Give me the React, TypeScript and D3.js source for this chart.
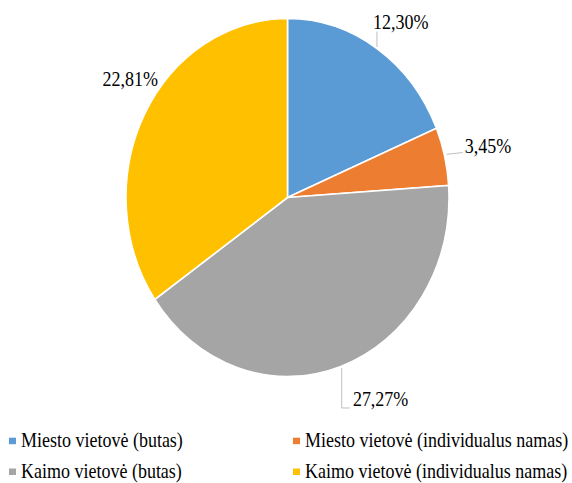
import React from "react";
import * as d3 from "d3";

const categories = [
  "Miesto vietovė (butas)",
  "Miesto vietovė (individualus namas)",
  "Kaimo vietovė (butas)",
  "Kaimo vietovė (individualus namas)",
];
const values = [12.3, 3.45, 27.27, 22.81];
const colors = ["#5B9BD5", "#ED7D31", "#A5A5A5", "#FFC000"];

// layout
const W = 572;
const H = 483;
const CX = 287.5;
const CY = 197.5;
const R = 161.5;
const SY = 1.108;
const FONT = "Liberation Serif";

// label placement relative to slice edge midpoint
const labelLayout = [
  { dx: -4, dy: -20, leader: "up" },
  { dx: 20, dy: -3, leader: "right" },
  { dx: 12, dy: 40, leader: "down" },
  { dx: -42, dy: -29, leader: "none" },
];

const legendCols = [9, 293];
const legendRows = [446.7, 477.5];

const fmt = (v: number) => v.toFixed(2).replace(".", ",") + "%";

export default function App() {
  const pie = d3
    .pie<number>()
    .sort(null)
    .value((d) => d);
  const arcs = pie(values);
  const arc = d3.arc<d3.PieArcDatum<number>>().innerRadius(0).outerRadius(R);

  const edge = (a: d3.PieArcDatum<number>) => {
    const m = (a.startAngle + a.endAngle) / 2;
    return [CX + R * Math.sin(m), CY - R * SY * Math.cos(m)];
  };

  return (
    <svg width={W} height={H} style={{ display: "block", position: "absolute", left: 0, top: 0 }}>
      <rect width={W} height={H} fill="#fff" />
      <g transform={`translate(${CX},${CY}) scale(1,${SY})`}>
        {arcs.map((a, i) => (
          <path
            key={i}
            d={arc(a) || ""}
            fill={colors[i]}
            stroke="#fff"
            strokeWidth={1.6}
            vectorEffect="non-scaling-stroke"
          />
        ))}
      </g>
      {arcs.map((a, i) => {
        const [ex, ey] = edge(a);
        const L = labelLayout[i];
        const tx = ex + L.dx;
        const ty = ey + L.dy;
        let leader = "";
        if (L.leader === "up") leader = `M${ex},${ey - 1.5}V${ty + 3}`;
        else if (L.leader === "right") leader = `M${ex + 2},${ey - 2}L${tx - 2},${ty - 0.8}`;
        else if (L.leader === "down") leader = `M${ex + 0.8},${ey + 1.5}V${ty + 1.6}H${tx - 3}`;
        return (
          <g key={i}>
            {leader && <path d={leader} fill="none" stroke="#BFBFBF" strokeWidth={1} />}
            <text
              transform={`translate(${tx},${ty}) scale(1,${SY * 1.08})`}
              style={{ fontFamily: FONT, fontSize: "18px" }}
              fill="#000"
            >
              {fmt(values[i])}
            </text>
          </g>
        );
      })}
      {categories.map((c, i) => {
        const x = legendCols[i % 2];
        const y = legendRows[Math.floor(i / 2)];
        return (
          <g key={c}>
            <rect x={x} y={y - 9} width={7} height={6.5} fill={colors[i]} />
            <text
              transform={`translate(${x + 12},${y}) scale(1,${SY})`}
              style={{ fontFamily: FONT, fontSize: "18px" }}
              fill="#000"
            >
              {c}
            </text>
          </g>
        );
      })}
    </svg>
  );
}
